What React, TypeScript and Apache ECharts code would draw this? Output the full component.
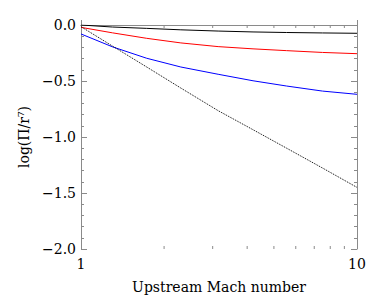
import React, { useEffect, useRef } from "react";
import * as echarts from "echarts";

const machNumbers = [1, 1.3, 1.73, 2.3, 3.14, 4.2, 5.56, 7.5, 10];
const blackSolid = [0.0, -0.018, -0.03, -0.043, -0.054, -0.062, -0.067, -0.071, -0.074];
const redSolid = [-0.021, -0.07, -0.119, -0.16, -0.193, -0.213, -0.229, -0.245, -0.256];
const blueSolid = [-0.08, -0.195, -0.297, -0.375, -0.44, -0.498, -0.545, -0.59, -0.619];
const blackDotted = [-0.015, -0.188, -0.375, -0.563, -0.765, -0.935, -1.1, -1.277, -1.45];
const minorXTicks = [2, 3, 4, 5, 6, 7, 8, 9];
const yLabels = ["−2.0", "−1.5", "−1.0", "−0.5", "0.0"];

const FONT = "DejaVu Serif";
const AXIS_COLOR = "#8a8a8a";

function pairs(ys: number[]) {
  return machNumbers.map((m, i) => [m, ys[i]]);
}

export default function App() {
  const ref = useRef<HTMLDivElement>(null);
  useEffect(() => {
    if (!ref.current) return;
    const chart = echarts.init(ref.current, null, { renderer: "svg" });
    const axisLine = { show: true, lineStyle: { color: AXIS_COLOR, width: 1 } };
    const xCommon = {
      type: "log" as const,
      logBase: 10,
      min: 1,
      max: 10,
      splitLine: { show: false },
      axisLine,
      axisTick: { show: true, inside: true, length: 5, lineStyle: { color: AXIS_COLOR } },
    };
    const yCommon = {
      type: "value" as const,
      min: -2,
      max: 0,
      interval: 0.5,
      splitLine: { show: false },
      axisLine,
      axisTick: { show: true, inside: true, length: 6, lineStyle: { color: AXIS_COLOR } },
      minorTick: { show: true, splitNumber: 5, length: 3, lineStyle: { color: AXIS_COLOR } },
    };
    const lineSeries = (data: number[], color: string, type: string = "solid") => ({
      type: "line",
      data: pairs(data),
      showSymbol: false,
      smooth: false,
      lineStyle: { color, width: 1, type },
      xAxisIndex: 0,
      yAxisIndex: 0,
    });
    chart.setOption({
      animation: false,
      backgroundColor: "#ffffff",
      grid: { left: 81, right: 25, top: 25, bottom: 51 },
      xAxis: [
        {
          ...xCommon,
          position: "bottom",
          name: "Upstream Mach number",
          nameLocation: "middle",
          nameGap: 31,
          nameTextStyle: { fontFamily: FONT, fontSize: 14, color: "#000" },
          axisLabel: { fontFamily: FONT, fontSize: 14, color: "#000", margin: 8 },
        },
        { ...xCommon, position: "top", axisLabel: { show: false } },
      ],
      yAxis: [
        {
          ...yCommon,
          position: "left",
          name: "log(Π/r⁷)",
          nameLocation: "middle",
          nameGap: 50,
          nameRotate: 90,
          nameTextStyle: { fontFamily: FONT, fontSize: 14, color: "#000" },
          axisLabel: {
            fontFamily: FONT,
            fontSize: 14,
            color: "#000",
            margin: 5,
            formatter: (v: number) => yLabels[Math.round((v + 2) / 0.5)] ?? "",
          },
        },
        { ...yCommon, position: "right", axisLabel: { show: false } },
      ],
      series: [
        {
          type: "custom",
          xAxisIndex: 0,
          yAxisIndex: 0,
          data: minorXTicks.map((m) => [m]),
          renderItem: (params: any, api: any) => {
            const m = api.value(0);
            const bottom = api.coord([m, -2]);
            const top = api.coord([m, 0]);
            return {
              type: "group",
              children: [
                {
                  type: "line",
                  shape: { x1: bottom[0], y1: bottom[1], x2: bottom[0], y2: bottom[1] - 3 },
                  style: { stroke: AXIS_COLOR, lineWidth: 1 },
                },
                {
                  type: "line",
                  shape: { x1: top[0], y1: top[1], x2: top[0], y2: top[1] + 3 },
                  style: { stroke: AXIS_COLOR, lineWidth: 1 },
                },
              ],
            };
          },
        },
        lineSeries(blackSolid, "#000000"),
        lineSeries(redSolid, "#ff0000"),
        lineSeries(blueSolid, "#0000ff"),
        lineSeries(blackDotted, "#000000", "dotted"),
      ],
    });
    return () => chart.dispose();
  }, []);
  return (
    <div
      ref={ref}
      style={{ position: "fixed", left: 0, top: 0, width: 382, height: 300, background: "#fff" }}
    />
  );
}
